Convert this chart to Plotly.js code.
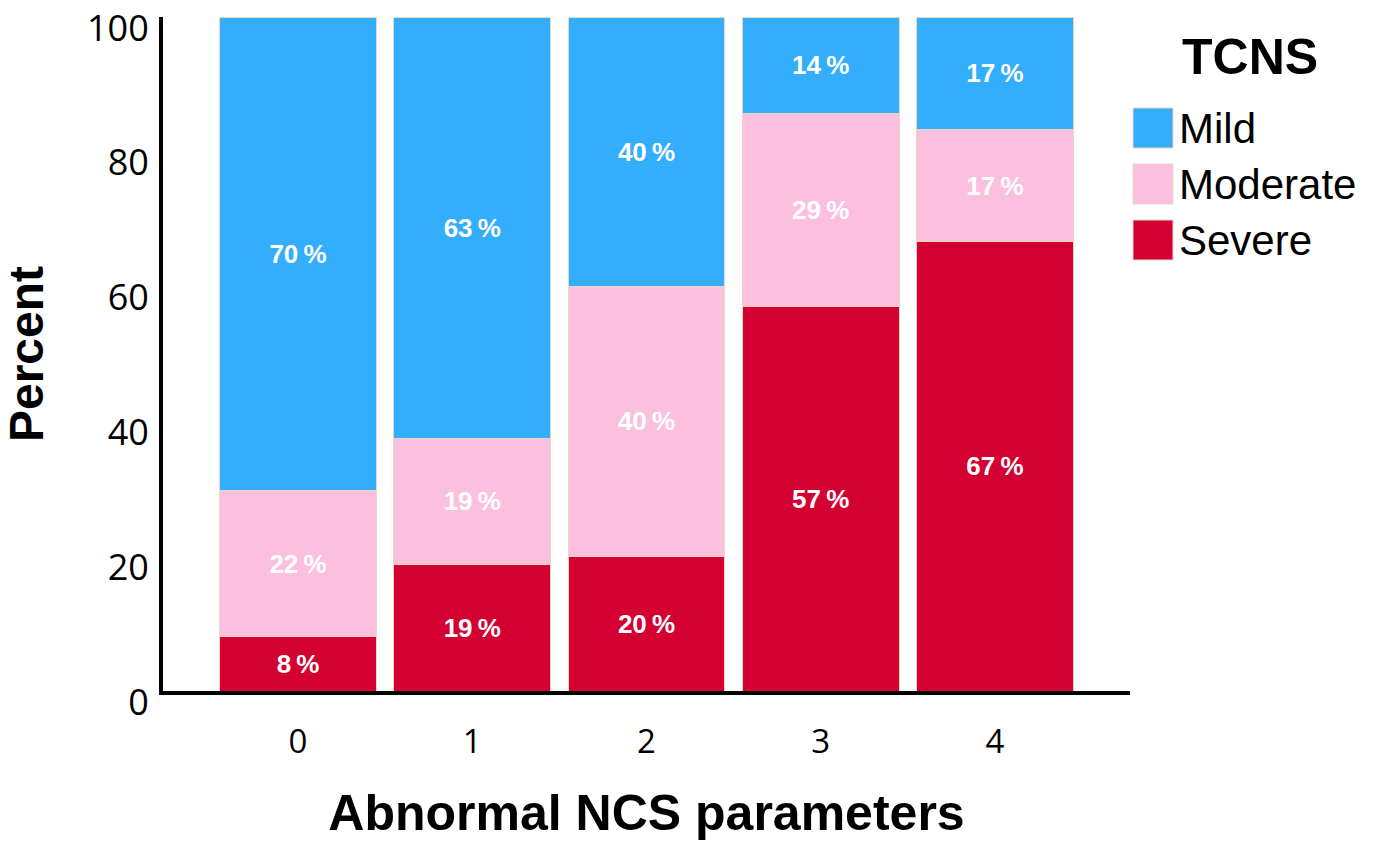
<!DOCTYPE html>
<html>
<head>
<meta charset="utf-8">
<script src="https://cdn.plot.ly/plotly-3.0.1.min.js"></script>
<style>html,body{margin:0;padding:0;background:#fff;}#chart{width:1375px;height:841px;}</style>
</head>
<body>
<div id="chart"></div>
<script>
const categories = ['0', '1', '2', '3', '4'];
const seriesNames = ['Severe', 'Moderate', 'Mild'];
const severe = [8.1, 18.75, 20, 57.1, 66.7];
const moderate = [21.6, 18.75, 40, 28.6, 16.6];
const mild = [70.3, 62.5, 40, 14.3, 16.7];
const yTicks = [0, 20, 40, 60, 80, 100];
const colors = {Mild: '#33aefd', Moderate: '#fcc0de', Severe: '#d50032'};
const legendOrder = ['Mild', 'Moderate', 'Severe'];
const values = {Severe: severe, Moderate: moderate, Mild: mild};

const traces = seriesNames.map(name => ({
  type: 'bar',
  name: name,
  x: categories,
  y: values[name],
  marker: {color: colors[name], line: {color: '#e6d9c3', width: 1}},
  texttemplate: '%{y:.0f}\u2009%',
  textposition: 'inside',
  insidetextanchor: 'middle',
  textangle: 0,
  insidetextfont: {family: 'Liberation Sans', size: 26, color: '#ffffff', weight: 'bold'},
  hoverinfo: 'skip',
  showlegend: false
}));

const shapes = [];
const annotations = [];
const legX0 = 1133, legY0 = 108, step = 56, sw = 40;
const W = 1375, H = 841;
const px = v => (v - 163) / (1130 - 163);
const py = v => 1 - (v - 17) / (691 - 17);
annotations.push({
  xref: 'paper', yref: 'paper', x: px(1180), y: py(57),
  xanchor: 'left', yanchor: 'middle', showarrow: false, text: 'TCNS',
  font: {family: 'Liberation Sans', size: 50, color: '#000', weight: 'bold'}
});
legendOrder.forEach((name, i) => {
  const top = legY0 + i * step;
  shapes.push({
    type: 'rect', xref: 'paper', yref: 'paper',
    x0: px(legX0), x1: px(legX0 + sw), y0: py(top + sw), y1: py(top),
    fillcolor: colors[name], line: {color: '#e6d9c3', width: 1}
  });
  annotations.push({
    xref: 'paper', yref: 'paper', x: px(1177), y: py(top + sw / 2 + 1),
    xanchor: 'left', yanchor: 'middle', showarrow: false, text: name,
    font: {family: 'Liberation Sans', size: 42, color: '#000'}
  });
});

const layout = {
  width: W, height: H,
  margin: {l: 163, r: 245, t: 17, b: 150},
  paper_bgcolor: '#ffffff', plot_bgcolor: '#ffffff',
  barmode: 'stack',
  bargap: 0.1,
  xaxis: {
    type: 'category',
    range: [-0.775, 4.775],
    showgrid: false, zeroline: false,
    showline: true, linecolor: '#000', linewidth: 4,
    ticks: 'outside', ticklen: 18, tickcolor: 'rgba(0,0,0,0)',
    tickfont: {family: 'Open Sans', size: 33, color: '#000'},
    title: {text: 'Abnormal NCS parameters', standoff: 38,
      font: {family: 'Liberation Sans', size: 50, color: '#000', weight: 'bold'}}
  },
  yaxis: {
    range: [0, 100],
    tickvals: yTicks,
    showgrid: false, zeroline: false,
    showline: true, linecolor: '#000', linewidth: 4,
    ticks: 'outside', ticklen: 3, tickcolor: 'rgba(0,0,0,0)',
    ticklabelshift: 11,
    tickfont: {family: 'Open Sans', size: 36, color: '#000'},
    title: {text: 'Percent', standoff: 37,
      font: {family: 'Liberation Sans', size: 48, color: '#000', weight: 'bold'}}
  },
  shapes: shapes,
  annotations: annotations
};

Plotly.newPlot('chart', traces, layout, {displayModeBar: false, staticPlot: true});
</script>
</body>
</html>
